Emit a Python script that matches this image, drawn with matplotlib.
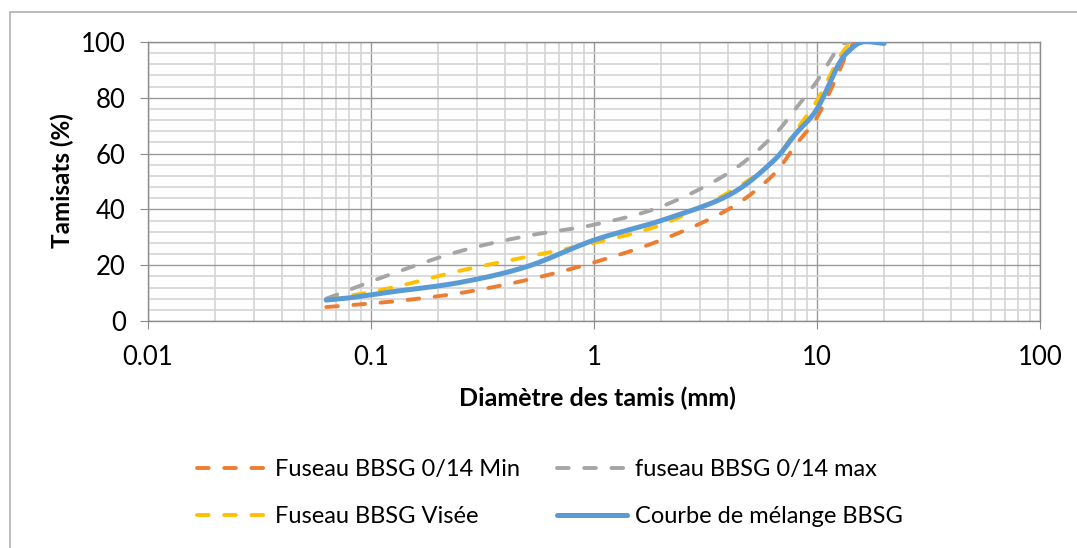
import numpy as np
import matplotlib
matplotlib.use("Agg")
import matplotlib.pyplot as plt
from matplotlib.ticker import MultipleLocator, LogLocator, FixedFormatter, FixedLocator
from matplotlib.patches import Rectangle

plt.rcParams['font.family'] = ['Lato', 'DejaVu Sans']

# Données (tamis en mm, passants en %)
tamis_min = [0.063, 0.125, 0.25, 0.5, 1, 2, 4, 6.3, 8, 10, 12.5, 14, 16]
fuseau_min = [5, 7, 10, 14.7, 21, 29, 40, 52, 63, 73, 89, 98, 100]

tamis_max = [0.063, 0.125, 0.25, 0.5, 1, 2, 4, 6.3, 8, 10, 12.5, 14]
fuseau_max = [8, 17, 25, 30.5, 34.5, 41, 53, 66, 76, 86, 98, 100]

tamis_visee = [0.063, 0.125, 0.25, 0.5, 1, 2, 4, 6.3, 8, 10, 12.5, 14, 16]
fuseau_visee = [7.5, 12, 18, 23, 28, 34.5, 46, 57, 68, 79, 94, 99, 100]

tamis_melange = [0.063, 0.08, 0.125, 0.25, 0.5, 1, 2, 4, 6.3, 8, 10, 12.5, 14, 16, 20]
melange = [7.5, 8.3, 10.5, 13.8, 19.5, 29, 36, 45, 57, 67, 76, 92, 97, 100, 99.5]

labels = ["Fuseau BBSG 0/14 Min", "fuseau BBSG 0/14 max",
          "Fuseau BBSG Visée", "Courbe de mélange BBSG"]
couleurs = ["#ED7D31", "#A5A5A5", "#FFC000", "#5B9BD5"]


def lisser(x, y, n=12):
    # courbe lissée façon Excel (Catmull-Rom en log x)
    lx = np.log10(np.asarray(x, float))
    y = np.asarray(y, float)
    px = np.concatenate([[2 * lx[0] - lx[1]], lx, [2 * lx[-1] - lx[-2]]])
    py = np.concatenate([[2 * y[0] - y[1]], y, [2 * y[-1] - y[-2]]])
    xs, ys = [], []
    t = np.linspace(0, 1, n, endpoint=False)
    for i in range(1, len(px) - 2):
        for P, out in ((px, xs), (py, ys)):
            p0, p1, p2, p3 = P[i - 1], P[i], P[i + 1], P[i + 2]
            out.extend(0.5 * (2 * p1 + (-p0 + p2) * t + (2 * p0 - 5 * p1 + 4 * p2 - p3) * t ** 2
                              + (-p0 + 3 * p1 - 3 * p2 + p3) * t ** 3))
    xs.append(lx[-1])
    ys.append(y[-1])
    return 10 ** np.array(xs), np.array(ys)


fig = plt.figure(figsize=(10.77, 5.48), dpi=100)
ax = fig.add_axes([148 / 1077, 1 - 321 / 548, (1040 - 148) / 1077, (321 - 42) / 548])

series = [(tamis_min, fuseau_min), (tamis_max, fuseau_max),
          (tamis_visee, fuseau_visee), (tamis_melange, melange)]
handles = []
for k, (x, y) in enumerate(series):
    xs, ys = lisser(x, y)
    if k < 3:
        h, = ax.plot(xs, ys, color=couleurs[k], lw=2.8, dashes=(3.0, 4.0),
                     dash_capstyle='round', label=labels[k], zorder=3 + k)
    else:
        h, = ax.plot(xs, ys, color=couleurs[k], lw=3.6, solid_capstyle='round',
                     label=labels[k], zorder=6)
    handles.append(h)

ax.set_xscale('log')
ax.set_xlim(0.01, 100)
ax.set_ylim(0, 100)
ax.xaxis.set_major_locator(FixedLocator([0.01, 0.1, 1, 10, 100]))
ax.xaxis.set_major_formatter(FixedFormatter(["0.01", "0.1", "1", "10", "100"]))
ax.xaxis.set_minor_locator(LogLocator(base=10, subs=np.arange(2, 10)))
ax.xaxis.set_minor_formatter(FixedFormatter([]))
ax.yaxis.set_major_locator(MultipleLocator(20))
ax.yaxis.set_minor_locator(MultipleLocator(4))

ax.grid(which='major', color='#9a9a9a', lw=1.0)
ax.grid(which='minor', color='#d4d4d4', lw=1.2)
ax.set_axisbelow(True)

for s in ax.spines.values():
    s.set_color('#8c8c8c')
    s.set_linewidth(1.0)
ax.tick_params(which='major', length=6, color='#8c8c8c', labelsize=18.5, direction='out')
ax.tick_params(axis='x', pad=11)
ax.tick_params(axis='y', pad=10)
ax.tick_params(which='minor', length=0)

fig.text(62 / 1077, 1 - 181 / 548, "Tamisats (%)", rotation=90, ha='center', va='center',
         fontsize=17.5, fontweight='bold')
fig.text(597 / 1077, 1 - 398 / 548, "Diamètre des tamis (mm)", ha='center', va='center',
         fontsize=18, fontweight='bold')

ordre = [0, 2, 1, 3]
fig.legend([handles[i] for i in ordre], [labels[i] for i in ordre],
           loc='center left', bbox_to_anchor=(197 / 1077, 1 - 493 / 548), ncol=2, frameon=False,
           fontsize=17, handlelength=2.95, handletextpad=0.34, columnspacing=1.6,
           labelspacing=1.1, borderpad=0, borderaxespad=0)

fig.patches.append(Rectangle((10 / 1077, -0.05), 1.2, 1 - 12 / 548 + 0.05,
                             transform=fig.transFigure, fill=False,
                             edgecolor='#b0b0b0', lw=1.2))

fig.savefig("out.png", dpi=100)
